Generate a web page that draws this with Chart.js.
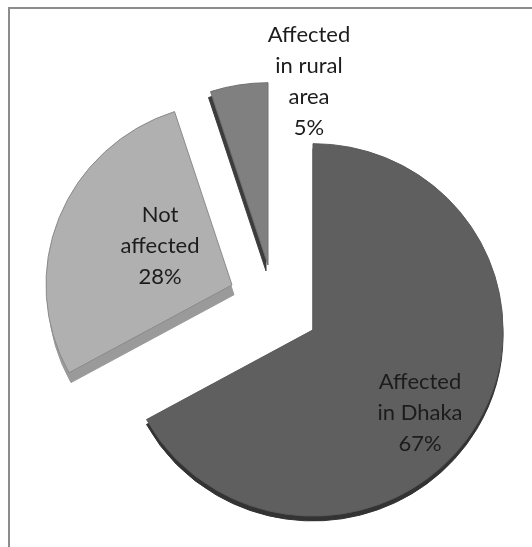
<!DOCTYPE html>
<html>
<head>
<meta charset="utf-8">
<script src="https://cdn.jsdelivr.net/npm/chart.js@4"></script>
<style>
  html, body { margin: 0; padding: 0; background: #fff; }
  #wrap { position: relative; width: 532px; height: 547px; overflow: hidden; }
  #chart { position: absolute; left: 0; top: 0; }
  #frame { position: absolute; left: 8px; top: 7px; width: 600px; height: 600px;
           border-left: 2px solid #8c8c8c; border-top: 2px solid #8c8c8c; }
</style>
</head>
<body>
<div id="wrap">
  <div id="frame"></div>
  <canvas id="chart" width="532" height="547"></canvas>
</div>
<script>
'use strict'

const categories = ['Affected in Dhaka', 'Not affected', 'Affected in rural area'];
const shares = [67, 28, 5];
const labelLines = [['Affected', 'in Dhaka'], ['Not', 'affected'], ['Affected', 'in rural', 'area']];

const faceColors = ['#5f5f5f', '#b0b0b0', '#808080'];
const edgeColors = ['#5a5a5a', '#8a8a8a', '#707070'];
const wallColors = ['#333333', '#9a9a9a', '#3c3c3c'];

// how far each slice is pulled out of the pie, its radius, and which way its side wall shows
const explode = [[47, 57.5], [-34, 11.7], [2, -8.7]];
const sliceRadius = [190, 186, 186];
const wallDepth = [[0, 5], [2, 10], [-2, 6]];
const tilt = 0.98; // the pie leans back a little
// label block centre relative to the pie centre
const labelAt = [[154, 139], [-106, -28], [43, -192]];
const lineHeight = 31;

// moves the arcs out by their explode vector
const explodePlugin = {
    id: 'explode',
    afterDatasetsUpdate(chart) {
        chart.getDatasetMeta(0).data.forEach((arc, i) => {
            arc.x += explode[i][0];
            arc.y += explode[i][1];
            arc.outerRadius = sliceRadius[i];
        });
    }
};

// side walls are the same arcs painted darker behind the faces
const wallPlugin = {
    id: 'walls',
    beforeDatasetsDraw(chart) {
        const ctx = chart.ctx;
        const cy = (chart.chartArea.top + chart.chartArea.bottom) / 2;
        ctx.save();
        ctx.translate(0, cy);
        ctx.scale(1, tilt);
        ctx.translate(0, -cy);
        chart.getDatasetMeta(0).data.forEach((arc, i) => {
            const wall = Object.create(arc, {
                options: { value: { ...arc.options, backgroundColor: wallColors[i], borderColor: wallColors[i] } }
            });
            ctx.save();
            ctx.translate(wallDepth[i][0], wallDepth[i][1]);
            Chart.ArcElement.prototype.draw.call(wall, ctx);
            ctx.restore();
        });
    },
    afterDatasetsDraw(chart) {
        chart.ctx.restore();
    }
};

const labelPlugin = {
    id: 'sliceLabels',
    afterDatasetsDraw(chart) {
        const ctx = chart.ctx;
        const cx = (chart.chartArea.left + chart.chartArea.right) / 2;
        const cy = (chart.chartArea.top + chart.chartArea.bottom) / 2;
        ctx.save();
        ctx.font = '22px Lato';
        ctx.fillStyle = '#1c1c1c';
        ctx.textAlign = 'center';
        ctx.textBaseline = 'middle';
        shares.forEach((share, i) => {
            const lines = labelLines[i].concat(share + '%');
            const top = cy + labelAt[i][1] - (lines.length - 1) * lineHeight / 2;
            lines.forEach((line, n) => {
                ctx.fillText(line, cx + labelAt[i][0], top + n * lineHeight);
            });
        });
        ctx.restore();
    }
};

const ctx = document.getElementById('chart').getContext('2d');
const myChart = new Chart(ctx, {
    type: 'pie',
    data: {
        labels: categories,
        datasets: [{
            data: shares,
            backgroundColor: faceColors,
            borderColor: edgeColors,
            borderWidth: 1,
            radius: 187
        }]
    },
    options: {
        responsive: false,
        animation: false,
        events: [],
        plugins: {
            legend: { display: false },
            tooltip: { enabled: false }
        }
    },
    plugins: [explodePlugin, wallPlugin, labelPlugin]
});
</script>
</body>
</html>
